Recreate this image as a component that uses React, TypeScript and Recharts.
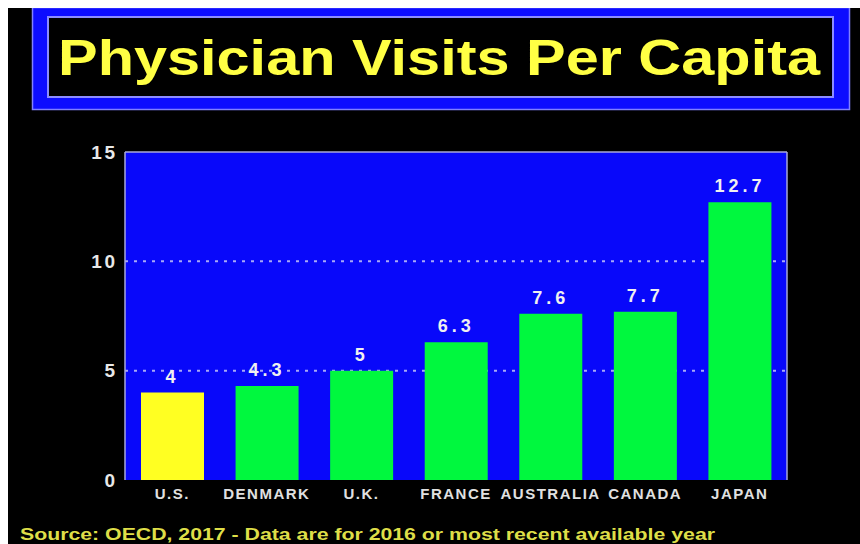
import React from 'react';
import { BarChart, Bar, XAxis, YAxis, CartesianGrid, LabelList, Cell, ReferenceLine } from 'recharts';

const countries = ['U.S.', 'DENMARK', 'U.K.', 'FRANCE', 'AUSTRALIA', 'CANADA', 'JAPAN'];
const visits = [4, 4.3, 5, 6.3, 7.6, 7.7, 12.7];
const yTicks = [0, 5, 10, 15];
const gridValues = [5, 10];
const highlight = 'U.S.';
const title = 'Physician Visits Per Capita';
const source = 'Source: OECD, 2017 - Data are for 2016 or most recent available year';

const data = countries.map((c, i) => ({ country: c, visits: visits[i] }));

const FONT = '"Liberation Sans", Arial, Helvetica, sans-serif';
const PLOT_BLUE = '#0808fa';
const BORDER = '#a8a8d8';

export default function App() {
  return (
    <div style={{ position: 'fixed', left: 8, top: 8, width: 852, height: 536, background: '#000', overflow: 'hidden' }}>
      <BarChart width={852} height={536} data={data} margin={{ top: 144, right: 72, bottom: 34, left: 57 }}>
        <CartesianGrid
          fill={PLOT_BLUE}
          vertical={false}
          horizontalValues={gridValues}
          stroke="#a8a8f8"
          strokeWidth={2}
          strokeDasharray="3 6"
        />
        <XAxis
          dataKey="country"
          axisLine={false}
          tickLine={false}
          tickMargin={2}
          height={30}
          interval={0}
          tick={{ fill: '#e0e0e0', fontSize: 15, fontWeight: 'bold', fontFamily: FONT, letterSpacing: 1.5 }}
        />
        <YAxis
          domain={[0, 15]}
          ticks={yTicks}
          width={60}
          tickLine={false}
          tickMargin={1.5}
          axisLine={{ stroke: BORDER, strokeWidth: 1.5 }}
          tick={{ fill: '#e8e8e8', fontSize: 19, fontWeight: 'bold', fontFamily: FONT, letterSpacing: 2.5 }}
        />
        <YAxis
          yAxisId="right"
          orientation="right"
          domain={[0, 15]}
          width={1}
          tick={false}
          tickLine={false}
          axisLine={{ stroke: BORDER, strokeWidth: 1.5 }}
        />
        <ReferenceLine y={15} stroke={BORDER} strokeWidth={1.5} />
        <Bar dataKey="visits" barSize={63} isAnimationActive={false}>
          {data.map((d) => (
            <Cell key={d.country} fill={d.country === highlight ? '#ffff22' : '#00f83e'} />
          ))}
          <LabelList
            dataKey="visits"
            position="top"
            offset={10}
            fill="#f0f0f0"
            fontSize={18}
            fontWeight="bold"
            fontFamily={FONT}
            letterSpacing={4}
          />
        </Bar>
      </BarChart>
      <svg width={852} height={536} style={{ position: 'absolute', left: 0, top: 0, pointerEvents: 'none' }}>
        <rect x={24.5} y={-0.5} width={817} height={102} fill="#0c0cff" stroke="#8080ff" strokeWidth={1.5} />
        <rect x={40} y={9} width={785} height={80} fill="#000" stroke="#8c8cff" strokeWidth={2} />
        <text
          x={431}
          y={67}
          textAnchor="middle"
          fill="#ffff44"
          fontSize={50}
          fontWeight="bold"
          fontFamily={FONT}
          textLength={762}
          lengthAdjust="spacingAndGlyphs"
        >
          {title}
        </text>
        <text
          x={12}
          y={532}
          fill="#dede48"
          fontSize={16}
          fontWeight="bold"
          fontFamily={FONT}
          textLength={695}
          lengthAdjust="spacingAndGlyphs"
        >
          {source}
        </text>
      </svg>
    </div>
  );
}
